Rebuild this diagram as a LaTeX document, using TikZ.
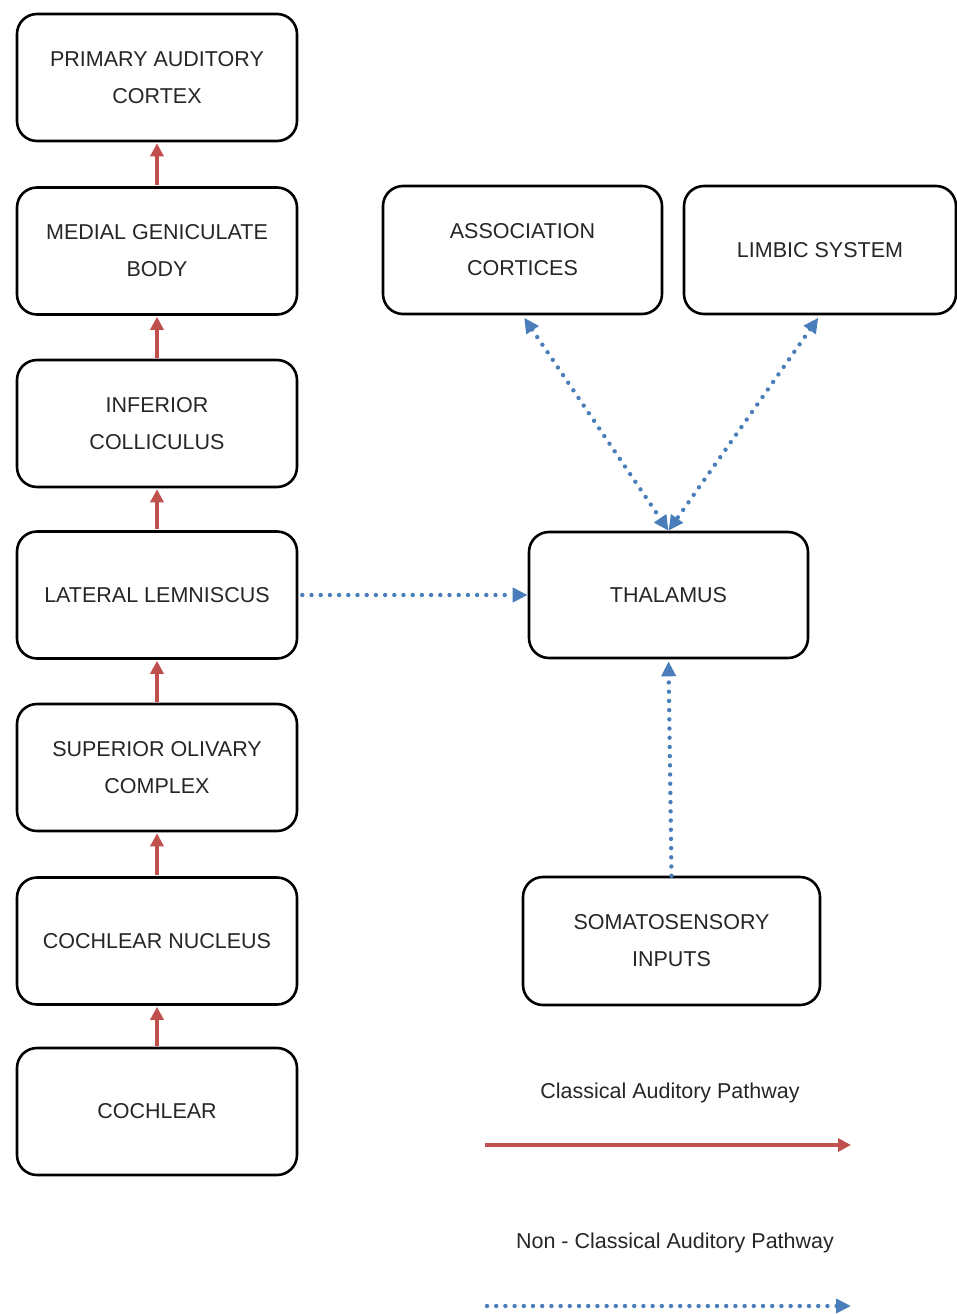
\documentclass[tikz,border=0pt]{standalone}
\usepackage{fontspec}
\setmainfont{Liberation Sans}
\usetikzlibrary{arrows.meta}
\definecolor{classred}{HTML}{C0504D}
\definecolor{nonblue}{HTML}{4A7EBB}
\begin{document}
\begin{tikzpicture}[x=1pt,y=-1pt,
  box/.style={draw=black, line width=2.6pt, rounded corners=20pt, fill=white,
    align=center, inner sep=0pt,
    font=\fontsize{21.5}{37}\selectfont, text=black!85},
  leftbox/.style={box, minimum width=280pt, minimum height=127pt},
  classical/.style={draw=classred, line width=3.6pt,
    -{Triangle[length=13pt,width=13pt]}},
  nonclassical/.style={draw=nonblue, line width=4.4pt, line cap=round,
    dash pattern=on 0pt off 9.2pt},
  legendtext/.style={font=\fontsize{21.5}{26}\selectfont, text=black!85}]

\useasboundingbox (0,0) rectangle (957,1314);

% classical auditory pathway column
\node[leftbox] (pac)  at (157,77.5)  {PRIMARY AUDITORY\\CORTEX};
\node[leftbox] (mgb)  at (157,251)   {MEDIAL GENICULATE\\BODY};
\node[leftbox] (ic)   at (157,423.5) {INFERIOR\\COLLICULUS};
\node[leftbox] (ll)   at (157,595)   {LATERAL LEMNISCUS};
\node[leftbox] (soc)  at (157,767.5) {SUPERIOR OLIVARY\\COMPLEX};
\node[leftbox] (cn)   at (157,941)   {COCHLEAR NUCLEUS};
\node[leftbox] (coch) at (157,1111.5){COCHLEAR};

% non-classical pathway boxes
\node[box, minimum width=279pt, minimum height=128pt] (assoc) at (522.5,250) {ASSOCIATION\\CORTICES};
\node[box, minimum width=272pt, minimum height=128pt] (limbic) at (820,250) {LIMBIC SYSTEM};
\node[box, minimum width=279pt, minimum height=126pt] (thal) at (668.5,595) {THALAMUS};
\node[box, minimum width=297pt, minimum height=128pt] (soma) at (671.5,941) {SOMATOSENSORY\\INPUTS};

% classical connectors
\foreach \lo/\hi in {mgb/pac, ic/mgb, ll/ic, soc/ll, cn/soc, coch/cn}
  \draw[classical, shorten >=1pt, shorten <=1pt] (\lo.north) -- (\hi.south);

% non-classical connectors
\draw[nonclassical, -{Triangle[length=15pt,width=14pt]}]
  (ll.east) ++(4pt,0) coordinate (llout) (llout) -- (thal.west);
\draw[nonclassical, {Triangle[length=15pt,width=14pt]}-{Triangle[length=15pt,width=14pt]}, shorten <=3pt]
  (assoc.south) -- (thal.north);
\draw[nonclassical, {Triangle[length=15pt,width=14pt]}-{Triangle[length=15pt,width=14pt]}, shorten <=3pt]
  (limbic.south) -- (thal.north);
\draw[nonclassical, -{Triangle[length=15pt,width=14pt]}, shorten >=2pt]
  (soma.north) -- (thal.south);

% legend
\node[legendtext] (lcl) at (670,1093) {Classical Auditory Pathway};
\coordinate (ca) at (485,1145);
\coordinate (cb) at (851,1145);
\draw[classical] (ca) -- (cb);
\node[legendtext] (lnc) at (675,1243) {Non - Classical Auditory Pathway};
\coordinate (na) at (487,1306);
\coordinate (nb) at (851,1306);
\draw[nonclassical, -{Triangle[length=15pt,width=14pt]}] (na) -- (nb);

\end{tikzpicture}
\end{document}
